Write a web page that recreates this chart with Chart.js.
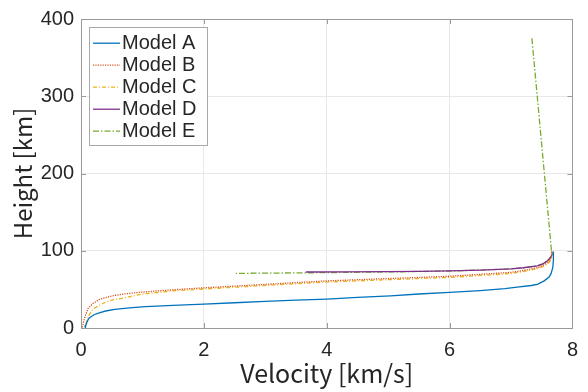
<!DOCTYPE html>
<html>
<head>
<meta charset="utf-8">
<script src="https://cdn.jsdelivr.net/npm/chart.js@4"></script>
<style>
  html, body { margin: 0; padding: 0; background: #ffffff; }
  #wrap { width: 588px; height: 392px; }
</style>
</head>
<body>
<div id="wrap"><canvas id="c" width="588" height="392"></canvas></div>
<script>
// ---- Data (velocity in km/s, height in km) ----
const seriesLabels = ["Model A", "Model B", "Model C", "Model D", "Model E"];

const velocityA = [7.69, 7.69, 7.68, 7.65, 7.62, 7.54, 7.43, 7.33, 7.1, 6.9, 6.5, 6.0, 5.5, 5.04, 4.5, 4.0, 3.5, 3.0, 2.5, 2.0, 1.5, 1.05, 0.79, 0.55, 0.4, 0.31, 0.22, 0.15, 0.12, 0.1, 0.08, 0.07];
const heightA   = [99, 88, 78, 70, 66, 61, 56.5, 55, 53, 51, 48.5, 46, 44, 41.7, 39.6, 37.5, 36, 34.4, 32.7, 31, 29.3, 27.6, 26, 24, 22, 20, 17.5, 14, 11.5, 8, 4, 0];

const velocityB = [7.66, 7.67, 7.65, 7.6, 7.52, 7.43, 7.2, 7.0, 6.5, 6.0, 5.0, 4.0, 3.0, 2.0, 1.5, 1.0, 0.7, 0.5, 0.3, 0.2, 0.12, 0.07, 0.04, 0.02];
const heightB   = [99, 95, 90, 85, 81, 78, 74.5, 72, 69.5, 67, 64, 61, 56.5, 52, 49.5, 46.5, 44, 41.5, 37, 32, 26, 16, 8, 0];

const velocityC = [7.66, 7.67, 7.65, 7.6, 7.52, 7.43, 7.2, 7.0, 6.5, 6.0, 5.0, 4.0, 3.0, 2.0, 1.5, 1.0, 0.76, 0.5, 0.39, 0.3, 0.2, 0.14, 0.09, 0.06];
const heightC   = [99, 94, 88, 83.5, 79.5, 77, 73, 70.5, 68, 65.5, 62.5, 59.5, 55, 50.5, 48, 44, 40, 36, 33, 29.5, 24.7, 18, 8, 0];

const velocityD = [7.66, 7.67, 7.65, 7.6, 7.52, 7.43, 7.2, 7.0, 6.5, 6.0, 5.5, 5.0, 4.3, 3.66];
const heightD   = [99, 96, 92, 87.5, 83, 80.5, 78, 76.5, 75, 74, 73.4, 73, 72.7, 72.5];

const velocityE = [7.34, 7.66, 7.67, 7.65, 7.6, 7.52, 7.43, 7.2, 7.0, 6.5, 6.0, 5.5, 5.0, 4.3, 3.66, 3.0, 2.52];
const heightE   = [375, 99, 96, 92, 87.5, 83, 80.5, 78, 76.5, 75, 73.8, 73.2, 72.6, 72, 71.4, 71, 70.7];

const xTicks = [0, 2, 4, 6, 8];
const yTicks = [0, 100, 200, 300, 400];

// ---- Build chart ----
const toPts = (vs, hs) => vs.map((v, i) => ({ x: v, y: hs[i] }));
const TITLE_FONT = "'Noto Sans CJK JP', 'Noto Sans', sans-serif";
const TICK_FONT = "'Liberation Sans', Arial, sans-serif";
const TEXT = "#262626";
const AXIS = "#9a9a9a";

const styles = [
  { color: "#0072BD", dash: [] },
  { color: "#D95319", dash: [1.2, 1.2] },
  { color: "#EDB120", dash: [4, 2, 1, 2] },
  { color: "#7E2F8E", dash: [] },
  { color: "#77AC30", dash: [6, 2, 1.5, 2] }
];
const series = [
  toPts(velocityA, heightA),
  toPts(velocityB, heightB),
  toPts(velocityC, heightC),
  toPts(velocityD, heightD),
  toPts(velocityE, heightE)
];

const datasets = series.map((pts, i) => ({
  label: seriesLabels[i],
  data: pts,
  showLine: true,
  borderColor: styles[i].color,
  backgroundColor: styles[i].color,
  borderWidth: 1.3,
  borderDash: styles[i].dash,
  pointRadius: 0,
  pointHoverRadius: 0,
  tension: 0,
  fill: false
}));

// Box, inward ticks and an inside legend
const framePlugin = {
  id: "frame",
  afterDatasetsDraw(chart) {
    const { ctx, chartArea: a, scales: { x, y } } = chart;
    ctx.save();
    ctx.strokeStyle = AXIS;
    ctx.lineWidth = 1;
    ctx.setLineDash([]);
    ctx.beginPath();
    const L = 5;
    xTicks.forEach(t => {
      const px = Math.round(x.getPixelForValue(t)) + 0.5;
      ctx.moveTo(px, a.bottom); ctx.lineTo(px, a.bottom - L);
      ctx.moveTo(px, a.top); ctx.lineTo(px, a.top + L);
    });
    yTicks.forEach(t => {
      const py = Math.round(y.getPixelForValue(t)) + 0.5;
      ctx.moveTo(a.left, py); ctx.lineTo(a.left + L, py);
      ctx.moveTo(a.right, py); ctx.lineTo(a.right - L, py);
    });
    ctx.stroke();
    ctx.strokeRect(Math.round(a.left) + 0.5, Math.round(a.top) + 0.5,
                   Math.round(a.right - a.left), Math.round(a.bottom - a.top));

    // legend
    const bx = a.left + 8, by = a.top + 8, bw = 118, bh = 118;
    ctx.fillStyle = "#ffffff";
    ctx.fillRect(bx, by, bw, bh);
    ctx.strokeStyle = "#a8a8a8";
    ctx.strokeRect(Math.round(bx) + 0.5, Math.round(by) + 0.5, bw, bh);
    ctx.font = "20px " + TICK_FONT;
    ctx.textBaseline = "middle";
    ctx.textAlign = "left";
    seriesLabels.forEach((label, i) => {
      const cy = by + 15.5 + i * 22.1;
      ctx.beginPath();
      ctx.strokeStyle = styles[i].color;
      ctx.lineWidth = 1.3;
      ctx.setLineDash(styles[i].dash);
      ctx.moveTo(bx + 4, Math.round(cy) + 0.2);
      ctx.lineTo(bx + 31, Math.round(cy) + 0.2);
      ctx.stroke();
      ctx.setLineDash([]);
      ctx.fillStyle = TEXT;
      ctx.fillText(label, bx + 33, cy + 1);
    });
    ctx.restore();
  }
};

new Chart(document.getElementById("c"), {
  type: "scatter",
  data: { datasets },
  options: {
    responsive: false,
    devicePixelRatio: 1,
    animation: false,
    events: [],
    layout: { padding: { top: 15, right: 9, left: 0, bottom: 0 } },
    plugins: { legend: { display: false }, tooltip: { enabled: false } },
    scales: {
      x: {
        type: "linear", min: 0, max: 8,
        afterBuildTicks: s => { s.ticks = xTicks.map(v => ({ value: v })); },
        afterFit: s => { s.height = 64; },
        ticks: { color: TEXT, font: { family: TICK_FONT, size: 20 }, padding: 10, maxRotation: 0 },
        grid: { color: "#e8e8e8", drawTicks: false },
        border: { color: AXIS },
        title: { display: true, text: "Velocity [km/s]", color: TEXT,
                 font: { family: TITLE_FONT, size: 25 }, padding: { top: 0, bottom: 4 } }
      },
      y: {
        type: "linear", min: 0, max: 400,
        afterBuildTicks: s => { s.ticks = yTicks.map(v => ({ value: v })); },
        afterFit: s => { s.width = 81; },
        ticks: { color: TEXT, font: { family: TICK_FONT, size: 20 }, padding: 7 },
        grid: { color: "#e8e8e8", drawTicks: false },
        border: { color: AXIS },
        title: { display: true, text: "Height [km]", color: TEXT,
                 font: { family: TITLE_FONT, size: 24 }, padding: { top: 8, bottom: 0 } }
      }
    }
  },
  plugins: [framePlugin]
});
</script>
</body>
</html>
